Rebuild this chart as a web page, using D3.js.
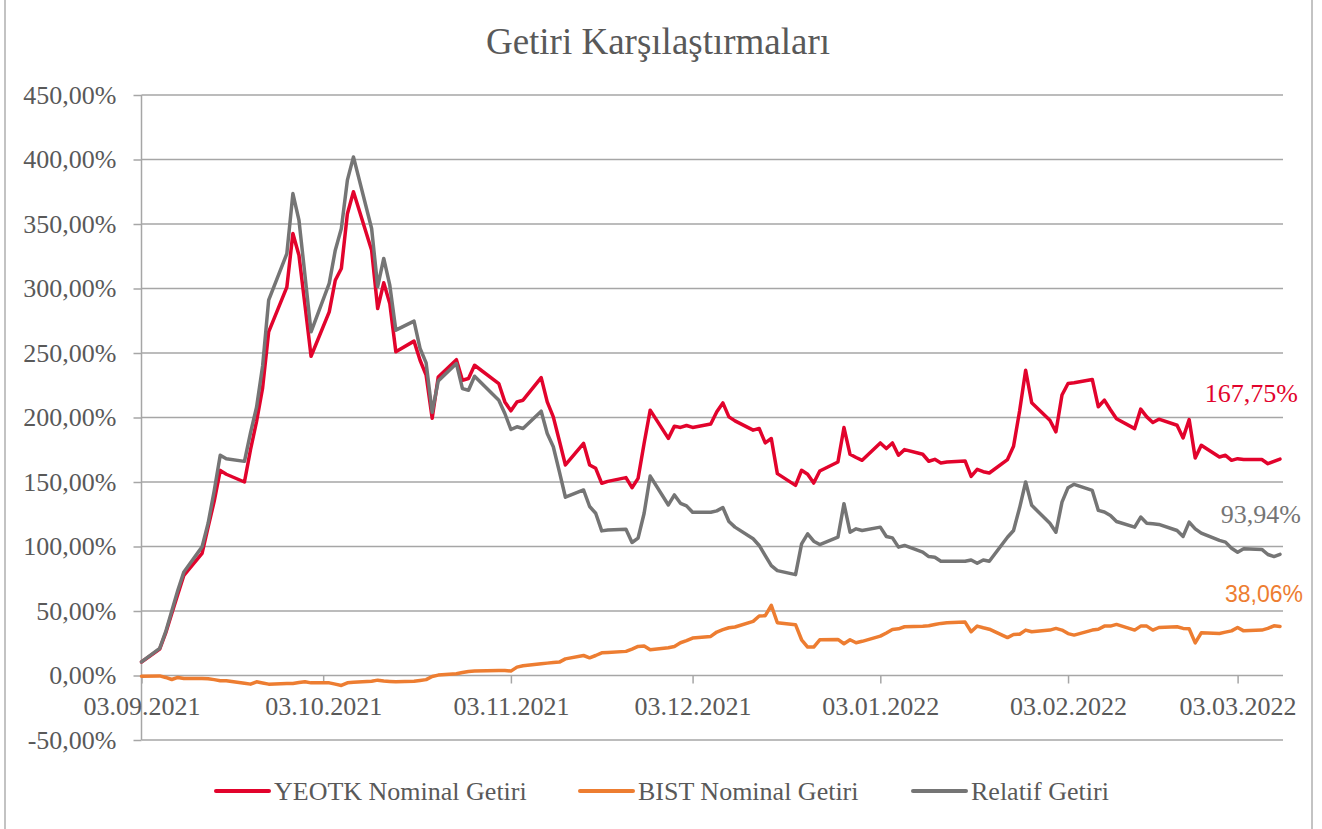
<!DOCTYPE html>
<html>
<head>
<meta charset="utf-8">
<script src="https://cdn.jsdelivr.net/npm/d3@7"></script>
<style>
  body { margin: 0; background: #fff; }
  svg { display: block; }
</style>
</head>
<body>
<div id="chart"></div>
<script>
// trading days, Sep 2021 - Mar 2022
const dates = [
  "2021-09-03","2021-09-06","2021-09-07","2021-09-08","2021-09-09","2021-09-10","2021-09-13","2021-09-14","2021-09-15","2021-09-16",
  "2021-09-17","2021-09-20","2021-09-21","2021-09-22","2021-09-23","2021-09-24","2021-09-27","2021-09-28","2021-09-29","2021-09-30",
  "2021-10-01","2021-10-04","2021-10-05","2021-10-06","2021-10-07","2021-10-08","2021-10-11","2021-10-12","2021-10-13","2021-10-14",
  "2021-10-15","2021-10-18","2021-10-19","2021-10-20","2021-10-21","2021-10-22","2021-10-25","2021-10-26","2021-10-27","2021-10-28",
  "2021-11-01","2021-11-02","2021-11-03","2021-11-04","2021-11-05","2021-11-08","2021-11-09","2021-11-10","2021-11-11","2021-11-12",
  "2021-11-15","2021-11-16","2021-11-17","2021-11-18","2021-11-19","2021-11-22","2021-11-23","2021-11-24","2021-11-25","2021-11-26",
  "2021-11-29","2021-11-30",
  "2021-12-01","2021-12-02","2021-12-03","2021-12-06","2021-12-07","2021-12-08","2021-12-09","2021-12-10","2021-12-13","2021-12-14",
  "2021-12-15","2021-12-16","2021-12-17","2021-12-20","2021-12-21","2021-12-22","2021-12-23","2021-12-24","2021-12-27","2021-12-28",
  "2021-12-29","2021-12-30","2021-12-31",
  "2022-01-03","2022-01-04","2022-01-05","2022-01-06","2022-01-07","2022-01-10","2022-01-11","2022-01-12","2022-01-13","2022-01-14",
  "2022-01-17","2022-01-18","2022-01-19","2022-01-20","2022-01-21","2022-01-24","2022-01-25","2022-01-26","2022-01-27","2022-01-28",
  "2022-01-31",
  "2022-02-01","2022-02-02","2022-02-03","2022-02-04","2022-02-07","2022-02-08","2022-02-09","2022-02-10","2022-02-11","2022-02-14",
  "2022-02-15","2022-02-16","2022-02-17","2022-02-18","2022-02-21","2022-02-22","2022-02-23","2022-02-24","2022-02-25","2022-02-28",
  "2022-03-01","2022-03-02","2022-03-03","2022-03-04","2022-03-07","2022-03-08","2022-03-09","2022-03-10"
];

const yeotk = [
  10.5, 20.5, 33, 48, 63, 77.7, 94.6, 115, 135, 159, 156, 150, 175, 197, 223, 266.4, 301, 342.6, 325.8, 287,
  247.5, 281.9, 306.4, 315.5, 358, 375, 329.7, 284.5, 304.4, 288.4, 250.9, 259.2, 244.4, 232.8, 199.5, 231.4, 244.8, 228.9, 230.2, 240.5,
  226.3, 212.1, 205.2, 212.1, 213.4, 230.9, 212.1, 200.5, 182, 163.2, 179.9, 163.2, 160.6, 149, 150.5, 153.4, 145.6, 152.8, 180, 205.7, 183.8, 193.3,
  192.3, 193.8, 192.3, 194.9, 204.4, 211.3, 200.5, 197.4, 190.2, 191.5, 180.3, 183.7, 156.5, 147.4, 159.1, 156, 149.2, 158.5, 165.5, 192.2, 171.5, 169, 166.8,
  180.3, 175.9, 180.3, 170.7, 175.1, 171.5, 166.1, 167.6, 164.8, 165.5, 166.3, 154.4, 159.8, 158, 157, 167.4, 177.7, 205, 236.6, 211.4, 197.9,
  188.9, 217.4, 226.4, 226.9, 229.5, 208.3, 213.5, 206, 199, 191.4, 206.5, 200.5, 196.1, 198.7, 194, 184.2, 198.4, 168.6, 178.5, 169.4,
  170.7, 166.8, 168.1, 167.4, 167.4, 164.2, 166, 167.75
];

const bist = [
  -0.5, -0.3, -1.5, -3.1, -1.5, -2.3, -2.3, -2.5, -3.2, -4.1, -4.1, -6.0, -6.7, -4.9, -5.8, -6.7, -6.2, -6.2, -5.5, -4.9,
  -5.7, -5.7, -6.7, -7.7, -5.7, -5.2, -4.4, -3.6, -4.2, -4.6, -4.9, -4.4, -3.8, -3.2, -0.8, 0.3, 1.3, 2.3, 3.1, 3.4,
  3.9, 3.8, 3.4, 6.5, 7.5, 9.1, 9.6, 10.1, 10.4, 12.9, 15.5, 13.7, 15.5, 17.6, 17.9, 18.7, 20.5, 22.5, 22.8, 19.9, 21.5, 22.5,
  25.4, 27, 29, 30.3, 33.7, 35.5, 37, 37.6, 42, 46.1, 46.4, 54.4, 40.9, 39.4, 27.7, 22, 22, 27.7, 28, 24.6, 27.7, 25.4, 26.5,
  30.5, 33, 35.7, 36.2, 37.8, 38.2, 38.5, 39.5, 40.4, 40.8, 41.4, 33.9, 38.3, 37, 35.9, 29.4, 31.8, 32, 35.2, 33.9, 35.2,
  36.5, 35.2, 32.5, 31.3, 35.2, 35.9, 38.3, 38.3, 39.6, 35.2, 38.3, 38.3, 35.2, 37.2, 37.8, 36.5, 36.2, 25.3, 33.1, 32.6,
  33.6, 34.6, 37.2, 34.6, 35.2, 36.5, 38.5, 38.06
];

const relatif = [
  10.5, 21, 34, 50, 66, 80.3, 99.7, 118, 143, 170.8, 168, 166, 188, 208, 240, 291, 327, 373.6, 353, 310,
  266.4, 304, 329.7, 346.5, 384, 402, 346.5, 301.5, 323.3, 302.6, 267.7, 274.7, 253.5, 242.3, 204, 228.4, 241.8, 222.4, 221.1, 232,
  213.4, 203.1, 190.7, 192.8, 191.5, 204.9, 187.6, 177.3, 158, 138.2, 143.8, 131, 125.8, 112.1, 112.8, 113.4, 103.1, 106.5, 125.8, 154.6, 132.2, 140,
  133.5, 131.5, 126.6, 126.6, 127.6, 130.2, 119.4, 115, 106, 100.8, 93, 85.2, 81.3, 78.2, 102, 109.8, 104.1, 101.5, 107.2, 133.2, 111.1, 113.7, 112.4,
  115, 107.8, 106.7, 99.5, 100.8, 95.6, 92.2, 91.7, 88.6, 88.6, 88.6, 89.6, 87, 89.6, 88.6, 107.2, 112.4, 130, 150, 131.9, 118.1,
  111.1, 134.4, 145.6, 148.2, 143.5, 128, 126.7, 124.1, 119.4, 115, 122.8, 118.1, 117.6, 117.1, 112.4, 107.8, 118.9, 113.7, 110.4, 104.7,
  103.4, 98.7, 95.6, 98.2, 97.7, 93.8, 92.2, 93.94
];

const seriesNames = ["YEOTK Nominal Getiri", "BIST Nominal Getiri", "Relatif Getiri"];
const endLabels = ["167,75%", "38,06%", "93,94%"];
const yTicks = [-50, 0, 50, 100, 150, 200, 250, 300, 350, 400, 450];
const xTicks = ["2021-09-03","2021-10-03","2021-11-03","2021-12-03","2022-01-03","2022-02-03","2022-03-03"];
const title = "Getiri Karşılaştırmaları";

const width = 1322, height = 829;
const serif = "'Liberation Serif', 'Times New Roman', serif";
const textColor = "#595959";
const gridColor = "#a6a6a6";
const colors = ["#e2032c", "#ed7d31", "#757575"];

const parse = d3.timeParse("%Y-%m-%d");
const days = dates.map(parse);

const x = d3.scaleTime()
  .domain(d3.extent(days))
  .range([141.5, 1280]);
const y = d3.scaleLinear()
  .domain([-50, 450])
  .range([740, 95]);

const svg = d3.select("#chart").append("svg")
  .attr("width", width)
  .attr("height", height);

svg.append("rect").attr("width", width).attr("height", height).attr("fill", "#fff");

// chart frame
svg.append("rect")
  .attr("x", 5).attr("y", -2)
  .attr("width", 1307).attr("height", height + 4)
  .attr("fill", "none")
  .attr("stroke", "#b0b0b0")
  .attr("stroke-width", 1.5);

svg.append("text")
  .attr("x", 658).attr("y", 54)
  .attr("text-anchor", "middle")
  .attr("font-family", serif)
  .attr("font-size", 37)
  .attr("fill", textColor)
  .text(title);

// gridlines
svg.append("g").selectAll("line")
  .data(yTicks)
  .join("line")
  .attr("x1", 141.5).attr("x2", 1283)
  .attr("y1", d => y(d)).attr("y2", d => y(d))
  .attr("stroke", gridColor)
  .attr("stroke-width", 1.5);

// y axis
const locale = d3.formatLocale({decimal: ",", thousands: ".", grouping: [3], currency: ["", ""], minus: "-"});
const fmt = locale.format(".2f");
const yAxis = svg.append("g")
  .attr("transform", "translate(141.5,0)")
  .call(d3.axisLeft(y).tickValues(yTicks).tickSize(8).tickPadding(17).tickFormat(d => fmt(d) + "%"));
yAxis.select(".domain").remove();
yAxis.selectAll("line").attr("stroke", gridColor).attr("stroke-width", 1.5);
yAxis.selectAll("text")
  .attr("font-family", serif).attr("font-size", 26).attr("fill", textColor);
svg.append("line")
  .attr("x1", 141.5).attr("x2", 141.5)
  .attr("y1", y(450)).attr("y2", y(-50))
  .attr("stroke", gridColor).attr("stroke-width", 1.5);

// x axis at zero
const xAxis = svg.append("g")
  .attr("transform", `translate(0,${y(0)})`)
  .call(d3.axisBottom(x).tickValues(xTicks.map(parse)).tickSize(8).tickSizeOuter(0).tickPadding(13)
    .tickFormat(d3.timeFormat("%d.%m.%Y")));
xAxis.select(".domain").remove();
xAxis.selectAll("line").attr("stroke", gridColor).attr("stroke-width", 1.5);
xAxis.selectAll("text")
  .attr("font-family", serif).attr("font-size", 26).attr("fill", textColor);

// series lines, drawn in legend order
const series = [yeotk, bist, relatif];
const line = d3.line()
  .x((d, i) => x(days[i]))
  .y(d => y(d));

svg.append("g").selectAll("path")
  .data(series)
  .join("path")
  .attr("fill", "none")
  .attr("stroke", (d, i) => colors[i])
  .attr("stroke-width", 3.5)
  .attr("stroke-linejoin", "round")
  .attr("stroke-linecap", "round")
  .attr("d", line);

// labels at the last point
const last = days.length - 1;
const labelOffsets = [[18, -57, serif, 26], [23, -24, "'Liberation Sans', Arial, sans-serif", 23], [21, -31, serif, 26]];
svg.append("g").selectAll("text")
  .data(series)
  .join("text")
  .attr("x", (d, i) => x(days[last]) + labelOffsets[i][0])
  .attr("y", (d, i) => y(d[last]) + labelOffsets[i][1])
  .attr("text-anchor", "end")
  .attr("font-family", (d, i) => labelOffsets[i][2])
  .attr("font-size", (d, i) => labelOffsets[i][3])
  .attr("fill", (d, i) => colors[i])
  .text((d, i) => endLabels[i]);

// legend
const legendX = [216, 580, 913];
const legend = svg.append("g").selectAll("g")
  .data(seriesNames)
  .join("g")
  .attr("transform", (d, i) => `translate(${legendX[i]},791)`);
legend.append("line")
  .attr("x1", 0).attr("x2", 53)
  .attr("stroke", (d, i) => colors[i])
  .attr("stroke-width", 4)
  .attr("stroke-linecap", "round");
legend.append("text")
  .attr("x", 58)
  .attr("dy", "0.33em")
  .attr("font-family", serif)
  .attr("font-size", 26)
  .attr("fill", textColor)
  .text(d => d);
</script>
</body>
</html>
